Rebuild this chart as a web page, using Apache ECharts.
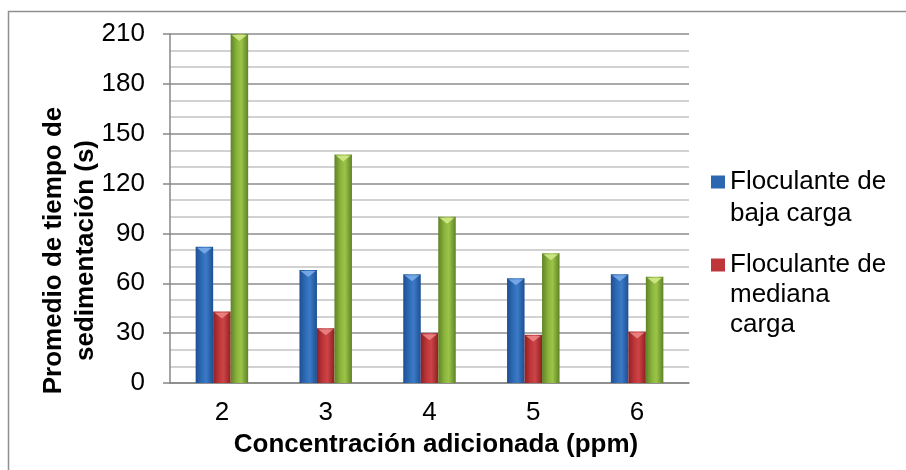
<!DOCTYPE html>
<html>
<head>
<meta charset="utf-8">
<script src="https://cdn.jsdelivr.net/npm/echarts@6/dist/echarts.min.js"></script>
<style>
html,body{margin:0;padding:0;background:#fff;}
#main{width:906px;height:470px;}
</style>
</head>
<body>
<div id="main"></div>
<script>
const categories = ['2', '3', '4', '5', '6'];
const bajaCarga = [82, 68, 65.5, 63, 65.5];
const medianaCarga = [43, 33, 30, 29, 31];
const altaCarga = [210, 137.5, 100, 78, 64];
const seriesNames = ['Floculante de baja carga', 'Floculante de mediana carga', 'Floculante de alta carga'];
const legendLabels = ['\nFloculante de\nbaja carga', '\n\nFloculante de\nmediana\ncarga'];
const yTicks = [0, 30, 60, 90, 120, 150, 180, 210];

const FONT = '"Liberation Sans", Arial, sans-serif';

function grad(dark, mid, light) {
  return new echarts.graphic.LinearGradient(0, 0, 1, 0, [
    {offset: 0, color: dark},
    {offset: 0.35, color: mid},
    {offset: 0.6, color: light},
    {offset: 1, color: dark}
  ]);
}
const styles = [
  {fill: grad('#1d4f92', '#2f6cb8', '#3b7ac6'), tip: '#7fb0ea', legend: '#2c68b2'},
  {fill: grad('#8f1f22', '#c0373a', '#cc4447'), tip: '#ef8a8a', legend: '#bf363a'},
  {fill: grad('#5f8226', '#8ab43c', '#9cc449'), tip: '#d4ec8c', legend: '#8ab23a'}
];
const dataSets = [bajaCarga, medianaCarga, altaCarga];

const series = dataSets.map((vals, k) => ({
  name: seriesNames[k],
  type: 'bar',
  data: vals,
  barWidth: 17.5,
  barGap: '0%',
  itemStyle: {color: styles[k].fill},
  emphasis: {disabled: true},
  markPoint: {
    symbol: 'triangle',
    symbolRotate: 180,
    symbolSize: [15, 6],
    symbolOffset: [0, 4],
    silent: true,
    label: {show: false},
    itemStyle: {color: styles[k].tip, opacity: 0.85},
    data: vals.map((v, i) => ({coord: [i, v]}))
  }
}));

const chart = echarts.init(document.getElementById('main'), null, {renderer: 'canvas'});
chart.setOption({
  animation: false,
  backgroundColor: '#fff',
  graphic: [{
    type: 'rect', silent: true, z: -10,
    shape: {x: 8.5, y: 11.5, width: 1200, height: 1200},
    style: {fill: 'none', stroke: '#8f8f8f', lineWidth: 1.5}
  }],
  grid: {left: 170, top: 34, right: 217, bottom: 87, containLabel: false},
  legend: [0, 1].map(k => ({
    data: [{
      name: seriesNames[k],
      icon: 'rect',
      itemStyle: {color: styles[k].legend}
    }],
    orient: 'vertical',
    left: 711,
    top: k === 0 ? 134 : 190,
    padding: 0,
    itemWidth: 14,
    itemHeight: 13,
    selectedMode: false,
    formatter: () => legendLabels[k],
    textStyle: {fontFamily: FONT, fontSize: 26, color: '#000', lineHeight: k === 0 ? 32 : 30}
  })),
  xAxis: {
    type: 'category',
    data: categories,
    name: 'Concentración adicionada (ppm)',
    nameLocation: 'middle',
    nameGap: 49,
    nameMoveOverlap: false,
    nameTextStyle: {fontFamily: FONT, fontSize: 26, fontWeight: 'bold', color: '#000', padding: [0, 0, 0, 13]},
    axisLine: {lineStyle: {color: '#878787', width: 1.5}},
    axisTick: {show: false},
    axisLabel: {fontFamily: FONT, fontSize: 26, color: '#000', margin: 17}
  },
  yAxis: {
    type: 'value',
    min: 0, max: 210, interval: 30,
    name: 'Promedio de tiempo de\nsedimentación (s)',
    nameLocation: 'middle',
    nameRotate: 90,
    nameGap: 68,
    nameMoveOverlap: false,
    nameTextStyle: {fontFamily: FONT, fontSize: 26, fontWeight: 'bold', color: '#000', lineHeight: 32, padding: [0, 84, 0, 0]},
    axisLine: {show: true, lineStyle: {color: '#878787', width: 1.5}},
    axisTick: {show: true, length: 7, lineStyle: {color: '#878787', width: 1.5}},
    axisLabel: {fontFamily: FONT, fontSize: 26, color: '#000', margin: 25,
      formatter: v => (yTicks.indexOf(v) >= 0 ? String(v) : '')},
    splitLine: {show: true, lineStyle: {color: '#8c8c8c', width: 1.5}},
    minorTick: {show: false, splitNumber: 3},
    minorSplitLine: {show: true, lineStyle: {color: '#c4c4c4', width: 1.5}}
  },
  series: series
});
</script>
</body>
</html>
